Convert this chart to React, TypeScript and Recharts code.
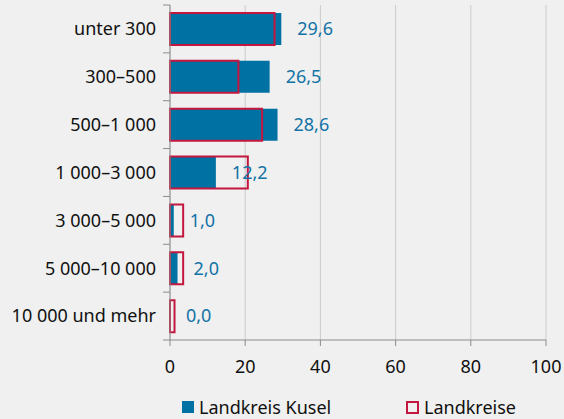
import { BarChart, Bar, XAxis, YAxis, CartesianGrid, Legend, LabelList } from "recharts"

const categories = [
  "unter 300",
  "300–500",
  "500–1 000",
  "1 000–3 000",
  "3 000–5 000",
  "5 000–10 000",
  "10 000 und mehr",
]
const kusel = [29.6, 26.5, 28.6, 12.2, 1.0, 2.0, 0.0]
const landkreise = [27.8, 18.2, 24.5, 20.7, 3.5, 3.5, 1.2]
const xTicks = [0, 20, 40, 60, 80, 100]
const seriesNames = ["Landkreis Kusel", "Landkreise"]

const BLUE = "#0071a3"
const LABEL_BLUE = "#1373a6"
const RED = "#c4173f"
const AXIS = "#8c8c8c"
const GRID = "#cacaca"
const BG = "#eff0ef"
const FONT = "'Noto Sans', sans-serif"
const FS = 18

const WIDTH = 564
const HEIGHT = 419
const MARGIN = { top: 5, right: 18, bottom: 0, left: 0 }
const Y_WIDTH = 170
const X_HEIGHT = 55
const LEGEND_HEIGHT = 24
const PLOT_H = HEIGHT - MARGIN.top - MARGIN.bottom - X_HEIGHT - LEGEND_HEIGHT
const BAND = PLOT_H / categories.length

const data = categories.map((name, i) => ({
  name,
  kusel: kusel[i],
  landkreise: landkreise[i],
}))

const fmt = (v: number) => v.toFixed(1).replace(".", ",")

function CategoryTick(props: any) {
  const { x, y, payload, index } = props
  const axisX = x + 14
  return (
    <g>
      <line x1={axisX - 7} x2={axisX} y1={y - BAND / 2} y2={y - BAND / 2} stroke={AXIS} />
      {index === categories.length - 1 && (
        <line x1={axisX - 7} x2={axisX} y1={y + BAND / 2} y2={y + BAND / 2} stroke={AXIS} />
      )}
      <text x={x} y={y} dy="0.35em" textAnchor="end" fill="#111" fontSize={FS} fontFamily={FONT}>
        {payload.value}
      </text>
    </g>
  )
}

function ValueLabel(props: any) {
  const { x, y, width, height, value } = props
  return (
    <text
      x={x + width + 16}
      y={y + height / 2}
      dy="0.35em"
      textAnchor="start"
      fill={LABEL_BLUE}
      fontSize={FS}
      fontFamily={FONT}
    >
      {fmt(Number(value))}
    </text>
  )
}

function LegendContent() {
  return (
    <div style={{ position: "relative", height: LEGEND_HEIGHT, fontFamily: FONT, fontSize: FS, color: "#111" }}>
      <div style={{ position: "absolute", left: 182, top: 0, display: "flex", alignItems: "center", height: LEGEND_HEIGHT }}>
        <span style={{ width: 12, height: 12, background: BLUE, display: "inline-block", marginRight: 5 }} />
        <span>{seriesNames[0]}</span>
      </div>
      <div style={{ position: "absolute", left: 406, top: 0, display: "flex", alignItems: "center", height: LEGEND_HEIGHT }}>
        <span style={{ width: 9, height: 9, border: `2px solid ${RED}`, display: "inline-block", marginRight: 5 }} />
        <span>{seriesNames[1]}</span>
      </div>
    </div>
  )
}

export default function App() {
  return (
    <div style={{ position: "absolute", left: 0, top: 0, width: WIDTH, height: HEIGHT, background: BG }}>
      <BarChart
        width={WIDTH}
        height={HEIGHT}
        data={data}
        layout="vertical"
        margin={MARGIN}
        barSize={32}
        barGap={-32}
      >
        <CartesianGrid horizontal={false} stroke={GRID} />
        <XAxis
          type="number"
          domain={[0, 100]}
          ticks={xTicks}
          height={X_HEIGHT}
          stroke={AXIS}
          tickSize={6}
          tickMargin={14}
          tick={{ fontSize: FS, fill: "#111", fontFamily: FONT }}
        />
        <YAxis
          type="category"
          dataKey="name"
          width={Y_WIDTH}
          stroke={AXIS}
          tickLine={false}
          tickSize={0}
          tickMargin={14}
          tick={<CategoryTick />}
          interval={0}
        />
        <Legend verticalAlign="bottom" content={<LegendContent />} wrapperStyle={{ left: 0, width: WIDTH }} />
        <Bar dataKey="kusel" fill={BLUE} minPointSize={0.001} isAnimationActive={false}>
          <LabelList dataKey="kusel" content={<ValueLabel />} />
        </Bar>
        <Bar dataKey="landkreise" fill="none" stroke={RED} strokeWidth={2} isAnimationActive={false} />
      </BarChart>
    </div>
  )
}
